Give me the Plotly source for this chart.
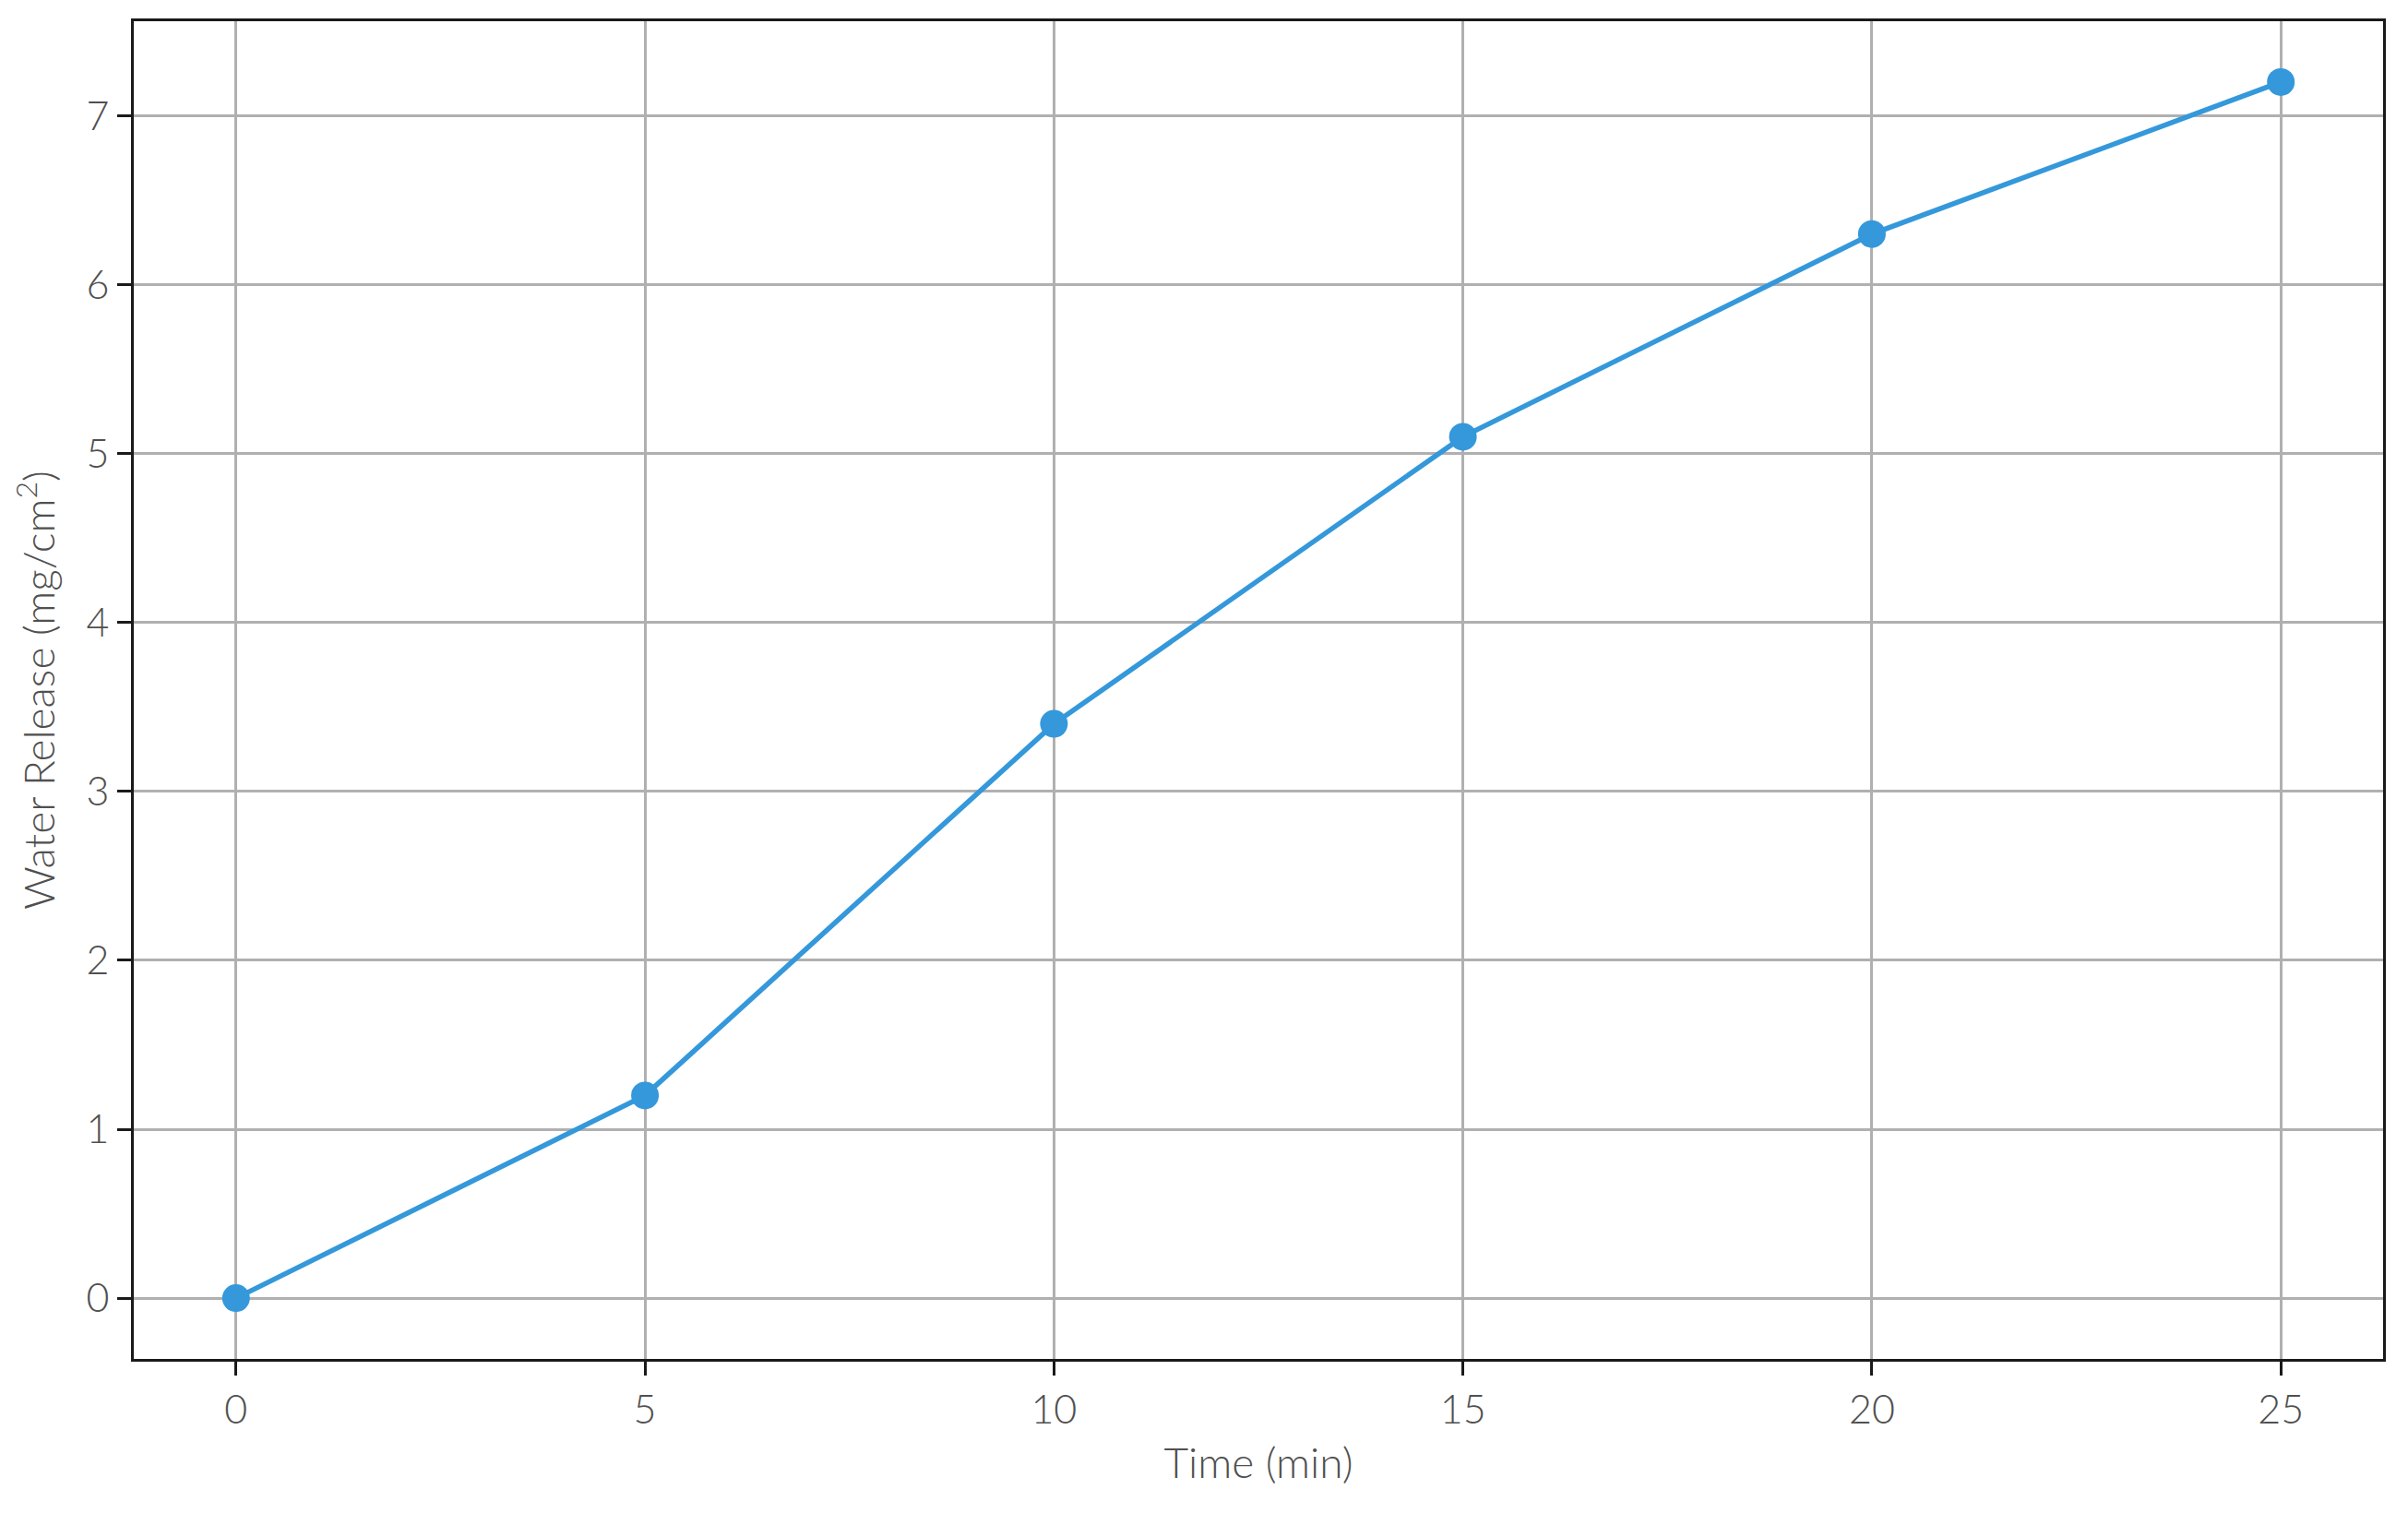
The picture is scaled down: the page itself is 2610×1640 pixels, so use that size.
import plotly.graph_objects as go

time_min = [0, 5, 10, 15, 20, 25]
water_release = [0.0, 1.2, 3.4, 5.1, 6.3, 7.2]
x_ticks = [0, 5, 10, 15, 20, 25]
y_ticks = [0, 1, 2, 3, 4, 5, 6, 7]

FONT = "Lato"
TXT = "#505050"

fig = go.Figure()
fig.add_trace(go.Scatter(
    x=time_min, y=water_release, mode="lines+markers",
    line=dict(color="#3498db", width=5.5),
    marker=dict(color="#3498db", size=30),
    showlegend=False,
))

axis_common = dict(
    showline=True, linecolor="#1a1a1a", linewidth=3, mirror=True,
    ticks="outside", ticklen=15, tickwidth=3, tickcolor="#1a1a1a",
    showgrid=True, gridcolor="#b0b0b0", gridwidth=2.5,
    zeroline=False,
    tickfont=dict(family=FONT, size=43, color=TXT, weight=300),
)

fig.update_layout(
    width=2602, height=1624,
    margin=dict(l=137, r=27, t=12, b=159),
    paper_bgcolor="white", plot_bgcolor="white",
    font=dict(family=FONT, color=TXT),
    xaxis=dict(
        range=[-1.25, 26.25], tickvals=x_ticks,
        title=dict(text="Time (min)", font=dict(family=FONT, size=46, color=TXT, weight=300), standoff=20),
        **axis_common,
    ),
    yaxis=dict(
        range=[-0.36, 7.56], tickvals=y_ticks,
        title=dict(text="Water Release (mg/cm<sup>2</sup>)", font=dict(family=FONT, size=46, color=TXT, weight=300), standoff=25),
        **axis_common,
    ),
)

fig.write_html("out.html")
